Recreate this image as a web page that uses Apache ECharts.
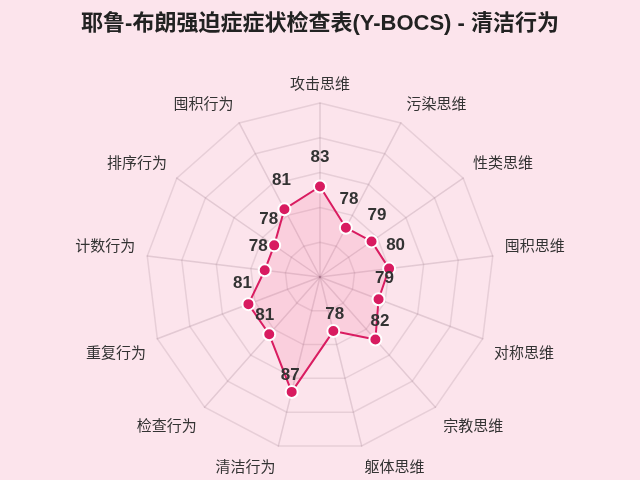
<!DOCTYPE html>
<html><head><meta charset="utf-8">
<script src="https://cdn.jsdelivr.net/npm/echarts@6/dist/echarts.min.js"></script>
<style>html,body{margin:0;padding:0;background:#fce4ec;}#c{width:640px;height:480px;}</style>
</head><body><div id="c"></div>
<script>
// clockwise order from top
const categories = ['攻击思维','污染思维','性类思维','囤积思维','对称思维','宗教思维','躯体思维','清洁行为','检查行为','重复行为','计数行为','排序行为','囤积行为'];
const values = [83,78,79,80,79,82,78,87,81,81,78,78,81];
const axisMin = 70, axisMax = 95;

// ECharts radar runs counter-clockwise; reverse all but the first
const N = categories.length;
const idx = [0].concat(categories.map((_, i) => i).slice(1).reverse());
const indicator = idx.map(i => ({name: categories[i], min: axisMin, max: axisMax}));
const data = idx.map(i => values[i]);

// axis-name styles: names above the centre sit on their baseline, names below hang
const nameBase = {color: '#333', fontSize: 15, fontFamily: 'Noto Sans CJK SC, sans-serif'};
const nameRich = {
  up: Object.assign({padding: [0, 0, 18, 0]}, nameBase),
  dn: Object.assign({padding: [18, 0, 0, 0]}, nameBase),
  mid: Object.assign({}, nameBase)
};
function nameFmt(name) {
  const k = categories.indexOf(name);
  if (k === 0) return '{mid|' + name + '}';
  const c = Math.cos(k * 2 * Math.PI / N);
  return (c > 0 ? '{up|' : '{dn|') + name + '}';
}

// value-label styles: nudged a little outward along each spoke
const labBase = {fontSize: 17, fontWeight: 'bold', color: '#333', fontFamily: 'Liberation Sans, sans-serif'};
const labRich = {};
idx.forEach((k, j) => {
  const t = k * 2 * Math.PI / N;
  const dy = 6.5 + 6.5 * Math.cos(t);
  const dx = 6.5 * Math.sin(t);
  labRich['v' + j] = Object.assign({
    padding: [0, dx < 0 ? Math.round(-2 * dx) : 0, Math.round(dy), dx > 0 ? Math.round(2 * dx) : 0]
  }, labBase);
});

const chart = echarts.init(document.getElementById('c'));
chart.setOption({
  backgroundColor: '#fce4ec',
  title: {
    text: '耶鲁-布朗强迫症症状检查表(Y-BOCS) - 清洁行为',
    left: 'center', top: 8,
    textStyle: {fontSize: 22, fontWeight: 'bold', color: '#222', fontFamily: 'Liberation Sans, Noto Sans CJK SC, sans-serif'}
  },
  radar: {
    center: [320, 277],
    radius: 174,
    startAngle: 90,
    splitNumber: 5,
    shape: 'polygon',
    indicator: indicator,
    axisName: Object.assign({formatter: nameFmt, rich: nameRich}, nameBase),
    nameGap: 12,
    splitLine: {lineStyle: {color: 'rgba(150,120,135,0.2)', width: 1.5}},
    splitArea: {show: false},
    axisLine: {lineStyle: {color: 'rgba(150,120,135,0.25)', width: 1.5}}
  },
  series: [{
    type: 'radar',
    symbol: 'circle',
    symbolSize: 12,
    data: [{
      value: data,
      itemStyle: {color: '#d81b60', borderColor: '#fff', borderWidth: 2},
      lineStyle: {color: '#d81b60', width: 2},
      areaStyle: {color: 'rgba(236,64,122,0.18)'},
      label: Object.assign({
        show: true, position: 'top', distance: 1, rich: labRich,
        formatter: p => (p.dimensionIndex != null ? '{v' + p.dimensionIndex + '|' + p.value + '}' : String(p.value))
      }, labBase)
    }]
  }]
});
</script></body></html>
